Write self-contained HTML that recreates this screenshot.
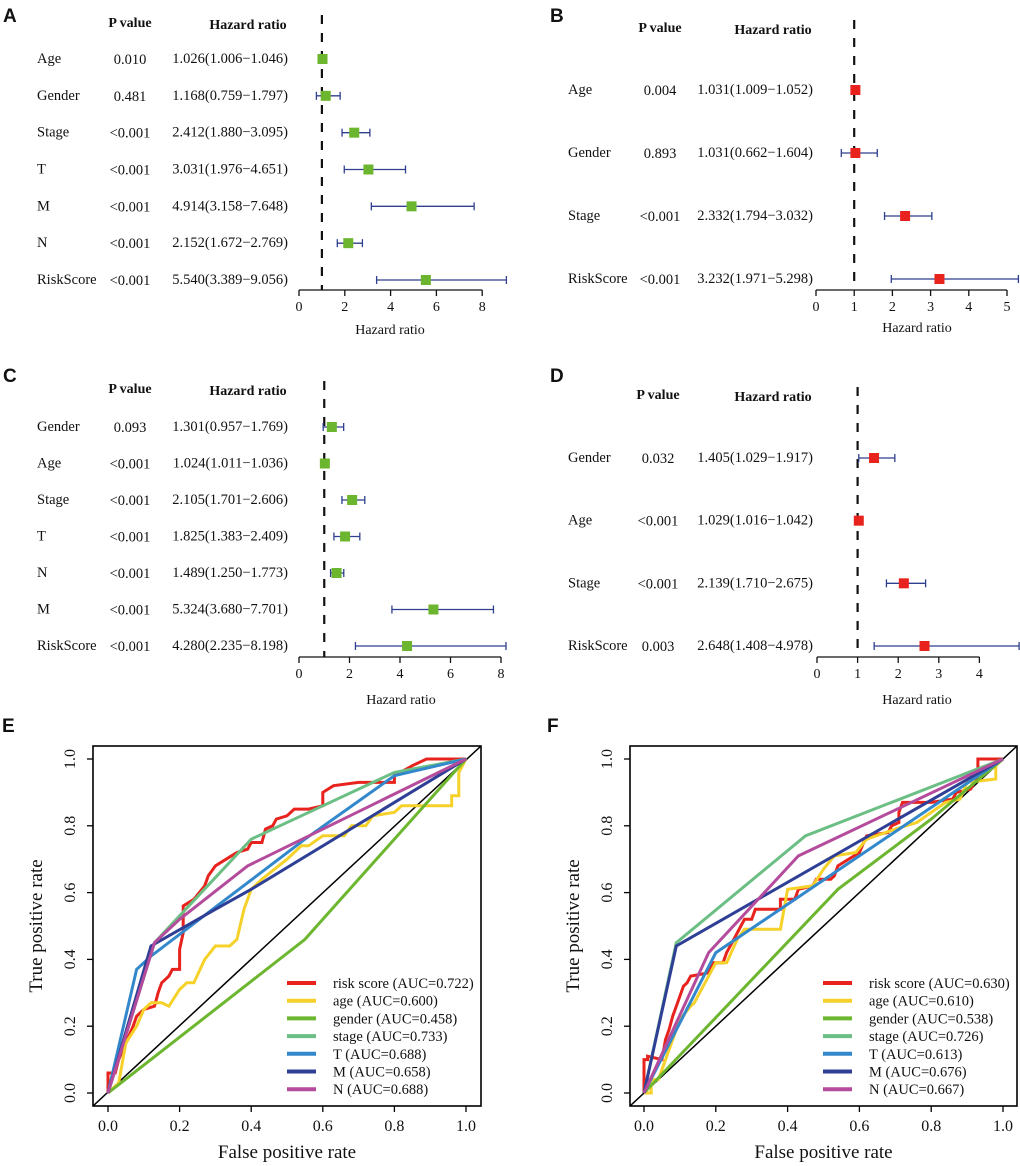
<!DOCTYPE html>
<html><head><meta charset="utf-8">
<style>
body{margin:0;background:#fff;}
svg{display:block;}
text{font-family:"Liberation Serif",serif;fill:#111;}
.let{font-family:"Liberation Sans",sans-serif;font-weight:bold;font-size:19px;}
</style></head>
<body>
<svg id="fig" width="1020" height="1166" viewBox="0 0 1020 1166" xmlns="http://www.w3.org/2000/svg">
<text class="let" x="3" y="22">A</text>
<text class="let" x="550" y="22">B</text>
<text class="let" x="3" y="382">C</text>
<text class="let" x="550" y="382">D</text>
<text class="let" x="2" y="732">E</text>
<text class="let" x="547" y="732">F</text>
</svg>
<script>
// ---- Forest plot data ----
const aVars = ["Age","Gender","Stage","T","M","N","RiskScore"];
const aP = ["0.010","0.481","<0.001","<0.001","<0.001","<0.001","<0.001"];
const aHR = [1.026,1.168,2.412,3.031,4.914,2.152,5.540];
const aLo = [1.006,0.759,1.880,1.976,3.158,1.672,3.389];
const aHi = [1.046,1.797,3.095,4.651,7.648,2.769,9.056];
const aTicks = [0,2,4,6,8];

const bVars = ["Age","Gender","Stage","RiskScore"];
const bP = ["0.004","0.893","<0.001","<0.001"];
const bHR = [1.031,1.031,2.332,3.232];
const bLo = [1.009,0.662,1.794,1.971];
const bHi = [1.052,1.604,3.032,5.298];
const bTicks = [0,1,2,3,4,5];

const cVars = ["Gender","Age","Stage","T","N","M","RiskScore"];
const cP = ["0.093","<0.001","<0.001","<0.001","<0.001","<0.001","<0.001"];
const cHR = [1.301,1.024,2.105,1.825,1.489,5.324,4.280];
const cLo = [0.957,1.011,1.701,1.383,1.250,3.680,2.235];
const cHi = [1.769,1.036,2.606,2.409,1.773,7.701,8.198];
const cTicks = [0,2,4,6,8];

const dVars = ["Gender","Age","Stage","RiskScore"];
const dP = ["0.032","<0.001","<0.001","0.003"];
const dHR = [1.405,1.029,2.139,2.648];
const dLo = [1.029,1.016,1.710,1.408];
const dHi = [1.917,1.042,2.675,4.978];
const dTicks = [0,1,2,3,4];

// ---- ROC data E ----
const eRiskX=[0,0,0.02,0.03,0.05,0.07,0.08,0.1,0.13,0.14,0.15,0.17,0.18,0.2,0.2,0.21,0.21,0.24,0.27,0.28,0.3,0.33,0.36,0.39,0.4,0.43,0.44,0.46,0.47,0.5,0.52,0.56,0.6,0.6,0.63,0.7,0.8,0.8,0.85,0.89,1];
const eRiskY=[0,0.06,0.06,0.1,0.15,0.2,0.23,0.25,0.26,0.3,0.33,0.35,0.37,0.37,0.43,0.48,0.56,0.58,0.62,0.65,0.68,0.7,0.72,0.73,0.75,0.75,0.79,0.8,0.82,0.83,0.85,0.85,0.86,0.9,0.92,0.93,0.93,0.95,0.98,1,1];
const eAgeX=[0,0.03,0.05,0.08,0.1,0.12,0.15,0.17,0.2,0.22,0.24,0.27,0.3,0.34,0.36,0.38,0.4,0.43,0.5,0.54,0.56,0.6,0.66,0.68,0.72,0.74,0.8,0.82,0.96,0.96,0.98,0.98,1];
const eAgeY=[0,0.03,0.15,0.2,0.25,0.27,0.27,0.26,0.31,0.33,0.33,0.4,0.44,0.44,0.46,0.55,0.61,0.64,0.7,0.74,0.74,0.77,0.77,0.8,0.8,0.83,0.84,0.86,0.86,0.89,0.89,0.96,1];
const eGenX=[0,0.55,0.6,1]; const eGenY=[0,0.46,0.52,1];
const eStgX=[0,0.13,0.4,0.6,0.8,1]; const eStgY=[0,0.45,0.76,0.86,0.96,1];
const eTX=[0,0.08,0.12,0.55,0.8,1]; const eTY=[0,0.37,0.41,0.76,0.95,1];
const eMX=[0,0.12,0.3,0.4,1]; const eMY=[0,0.44,0.55,0.61,1];
const eNX=[0,0.13,0.2,0.39,1]; const eNY=[0,0.45,0.52,0.68,1];
const eLabels=["risk score (AUC=0.722)","age (AUC=0.600)","gender (AUC=0.458)","stage (AUC=0.733)","T (AUC=0.688)","M (AUC=0.658)","N (AUC=0.688)"];

// ---- ROC data F ----
const fRiskX=[0,0,0.01,0.01,0.05,0.06,0.07,0.08,0.09,0.1,0.11,0.12,0.13,0.18,0.19,0.22,0.23,0.25,0.27,0.28,0.3,0.31,0.38,0.38,0.42,0.43,0.47,0.48,0.52,0.53,0.54,0.6,0.62,0.68,0.69,0.71,0.71,0.72,0.8,0.86,0.87,0.91,0.93,0.93,0.96,1];
const fRiskY=[0,0.1,0.1,0.11,0.1,0.16,0.19,0.23,0.26,0.29,0.32,0.33,0.35,0.36,0.39,0.39,0.42,0.46,0.5,0.52,0.52,0.55,0.55,0.58,0.58,0.61,0.62,0.64,0.64,0.65,0.68,0.72,0.77,0.78,0.8,0.81,0.84,0.87,0.87,0.88,0.9,0.91,0.95,1,1,1];
const fAgeX=[0,0.02,0.02,0.04,0.1,0.13,0.14,0.2,0.23,0.26,0.28,0.38,0.4,0.47,0.5,0.53,0.59,0.62,0.7,0.76,0.8,0.84,0.88,0.9,0.98,0.98,1];
const fAgeY=[0,0,0.04,0.04,0.22,0.26,0.27,0.39,0.39,0.46,0.49,0.49,0.61,0.62,0.67,0.71,0.72,0.76,0.79,0.81,0.84,0.87,0.88,0.93,0.94,0.98,1];
const fGenX=[0,0.54,0.8,1]; const fGenY=[0,0.61,0.82,1];
const fStgX=[0,0.09,0.45,1]; const fStgY=[0,0.45,0.77,1];
const fTX=[0,0.2,1]; const fTY=[0,0.42,1];
const fMX=[0,0.09,1]; const fMY=[0,0.44,1];
const fNX=[0,0.18,0.43,1]; const fNY=[0,0.42,0.71,1];
const fLabels=["risk score (AUC=0.630)","age (AUC=0.610)","gender (AUC=0.538)","stage (AUC=0.726)","T (AUC=0.613)","M (AUC=0.676)","N (AUC=0.667)"];
const rocTicks=[0,0.2,0.4,0.6,0.8,1.0];
const rocColors=["#e8221c","#f5d12a","#6db62f","#6cbf84","#3388cc","#2e3f95","#b44b9c"];

const svg=document.getElementById('fig');
const NS="http://www.w3.org/2000/svg";
function mk(tag,at,parent){const e=document.createElementNS(NS,tag);for(const k in at)e.setAttribute(k,at[k]);(parent||svg).appendChild(e);return e;}
function txt(s,at,parent){const e=mk('text',at,parent);e.textContent=s;return e;}

function forest(o){
  const g=mk('g',{});
  
  
  const sx=v=>o.x0+v*o.ppu;
  const n=o.vars.length;
  const ry=i=>o.row0+i*(o.rowN-o.row0)/(n-1);
  let h=txt('P value',{x:o.pX,y:o.headY,'text-anchor':'middle','font-size':14,'font-weight':'bold'},g);
  
  
  h=txt('Hazard ratio',{x:o.hrX-40,y:o.headY+2,'text-anchor':'middle','font-size':14,'font-weight':'bold'},g);
  
  
  const ref=mk('line',{x1:sx(1),x2:sx(1),y1:o.headY-12,y2:o.axY,stroke:'#111','stroke-width':2.2,'stroke-dasharray':'9,9'},g);
  
  
  for(let i=0;i<n;i++){
    const y=ry(i);
    let t=txt(o.vars[i],{x:o.labX,y:y+4,'font-size':14.5},g);
    
    
    t=txt(o.p[i],{x:o.pX,y:y+5,'text-anchor':'middle','font-size':14.5},g);
    
    
    t=txt(o.hr[i].toFixed(3)+'('+o.lo[i].toFixed(3)+'\u2212'+o.hi[i].toFixed(3)+')',{x:o.hrX,y:y+4,'text-anchor':'end','font-size':14.5},g);
    
    
    const ci=mk('g',{stroke:'#2f3f8f','stroke-width':1.3},g);
    
    
    mk('line',{x1:sx(o.lo[i]),x2:sx(o.hi[i]),y1:y,y2:y},ci);
    mk('line',{x1:sx(o.lo[i]),x2:sx(o.lo[i]),y1:y-4,y2:y+4},ci);
    mk('line',{x1:sx(o.hi[i]),x2:sx(o.hi[i]),y1:y-4,y2:y+4},ci);
    const b=mk('rect',{x:sx(o.hr[i])-5,y:y-5,width:10,height:10,fill:o.color},g);
    
    
  }
  const ax=mk('g',{},g);
  
  
  mk('line',{x1:sx(o.ticks[0]),x2:sx(o.ticks[o.ticks.length-1]),y1:o.axY,y2:o.axY,stroke:'#111','stroke-width':1.3},ax);
  o.ticks.forEach(v=>{
    mk('line',{x1:sx(v),x2:sx(v),y1:o.axY,y2:o.axY+6,stroke:'#111','stroke-width':1.3},ax);
    const tl=txt(String(v),{x:sx(v),y:o.axY+21,'text-anchor':'middle','font-size':14},ax);
    
    
  });
  const tt=txt('Hazard ratio',{x:o.titleX,y:o.titleY,'text-anchor':'middle','font-size':14},g);
  
  
}
forest({name:'forest-plot-a',vars:aVars,p:aP,hr:aHR,lo:aLo,hi:aHi,ticks:aTicks,color:'#6cb52e',x0:299,ppu:22.9,row0:59,rowN:280,axY:290,headY:27,labX:37,pX:130,hrX:288,titleX:390,titleY:334});
forest({name:'forest-plot-b',vars:bVars,p:bP,hr:bHR,lo:bLo,hi:bHi,ticks:bTicks,color:'#e8221c',x0:816,ppu:38.2,row0:90,rowN:279,axY:290,headY:32,labX:568,pX:660,hrX:813,titleX:917,titleY:332});
forest({name:'forest-plot-c',vars:cVars,p:cP,hr:cHR,lo:cLo,hi:cHi,ticks:cTicks,color:'#6cb52e',x0:299,ppu:25.25,row0:427,rowN:646,axY:657,headY:393,labX:37,pX:130,hrX:288,titleX:401,titleY:704});
forest({name:'forest-plot-d',vars:dVars,p:dP,hr:dHR,lo:dLo,hi:dHi,ticks:dTicks,color:'#e8221c',x0:817,ppu:40.6,row0:458,rowN:646,axY:657,headY:399,labX:568,pX:658,hrX:813,titleX:917,titleY:704});

function roc(o){
  const g=mk('g',{});
  
  
  const sx=v=>o.x0+v*(o.x1-o.x0), sy=v=>o.y0-v*(o.y0-o.y1);
  const cp=mk('clipPath',{id:o.name+'-clip'},g);
  mk('rect',{x:o.bl,y:o.bt,width:o.br-o.bl,height:o.bb-o.bt},cp);
  const dg=mk('line',{x1:o.bl,y1:o.bb,x2:o.br,y2:o.bt,stroke:'#000','stroke-width':1.5,'clip-path':'url(#'+o.name+'-clip)'},g);
  
  
  o.series.forEach((s,i)=>{
    const pts=s[0].map((x,j)=>sx(x).toFixed(1)+','+sy(s[1][j]).toFixed(1)).join(' ');
    const pl=mk('polyline',{points:pts,fill:'none',stroke:rocColors[i],'stroke-width':3,'stroke-linejoin':'miter'},g);
    
    
  });
  mk('rect',{x:o.bl,y:o.bt,width:o.br-o.bl,height:o.bb-o.bt,fill:'none',stroke:'#000','stroke-width':1.6},g);
  const xa=mk('g',{},g);
  
  
  const ya=mk('g',{},g);
  
  
  rocTicks.forEach(v=>{
    mk('line',{x1:sx(v),x2:sx(v),y1:o.bb,y2:o.bb+6,stroke:'#000','stroke-width':1.3},xa);
    let t=txt(v.toFixed(1),{x:sx(v),y:o.bb+25,'text-anchor':'middle','font-size':16},xa);
    
    
    mk('line',{x1:o.bl-6,x2:o.bl,y1:sy(v),y2:sy(v),stroke:'#000','stroke-width':1.3},ya);
    t=txt(v.toFixed(1),{x:0,y:0,'text-anchor':'middle','font-size':16,transform:'translate('+(o.bl-18)+','+sy(v)+') rotate(-90)'},ya);
    
    
  });
  let t=txt('False positive rate',{x:(o.bl+o.br)/2,y:o.bb+52,'text-anchor':'middle','font-size':19},g);
  
  
  t=txt('True positive rate',{x:0,y:0,'text-anchor':'middle','font-size':19,transform:'translate('+(o.bl-51)+','+((o.bt+o.bb)/2)+') rotate(-90)'},g);
  
  
  const lg=mk('g',{},g);
  
  
  o.labels.forEach((s,i)=>{
    const y=o.legY+i*17.7;
    const en=mk('g',{},lg);
    
    
    mk('line',{x1:o.legX,x2:o.legX+29,y1:y,y2:y,stroke:rocColors[i],'stroke-width':4},en);
    txt(s,{x:o.legX+46,y:y+5,'font-size':14.5},en);
  });
}
roc({name:'roc-chart-e',series:[[eRiskX,eRiskY],[eAgeX,eAgeY],[eGenX,eGenY],[eStgX,eStgY],[eTX,eTY],[eMX,eMY],[eNX,eNY]],labels:eLabels,x0:108,x1:466,y0:1093,y1:759,bl:93,br:481,bt:746,bb:1106,legX:287,legY:983});
roc({name:'roc-chart-f',series:[[fRiskX,fRiskY],[fAgeX,fAgeY],[fGenX,fGenY],[fStgX,fStgY],[fTX,fTY],[fMX,fMY],[fNX,fNY]],labels:fLabels,x0:644,x1:1003,y0:1093,y1:759,bl:630,br:1017,bt:746,bb:1106,legX:823,legY:983});
</script>
</body></html>
